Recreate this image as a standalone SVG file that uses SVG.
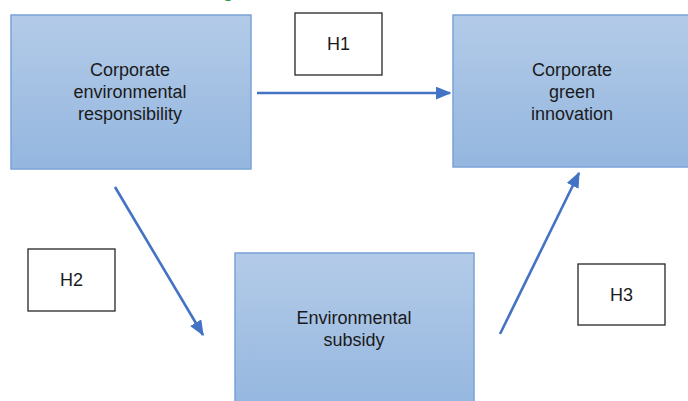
<svg xmlns="http://www.w3.org/2000/svg" width="688" height="401" viewBox="0 0 688 401">
<defs>
<linearGradient id="g1" x1="0" y1="0" x2="0" y2="1">
<stop offset="0" stop-color="#b3cbe8"/>
<stop offset="1" stop-color="#94b6df"/>
</linearGradient>
<marker id="ah" markerWidth="6" markerHeight="5" refX="5.5" refY="2.5" orient="auto" markerUnits="strokeWidth">
<path d="M0,0 L6,2.5 L0,5 Z" fill="#4472c4"/>
</marker>
<style>
.node{fill:url(#g1);stroke:#7aa3d6;stroke-width:1.5}
.hbox{fill:#ffffff;stroke:#262626;stroke-width:1.3}
.t{font-family:"Liberation Sans",Arial,sans-serif;font-size:18px;fill:#1a1a1a;text-anchor:middle}
.conn{stroke:#4472c4;stroke-width:2.6;fill:none;marker-end:url(#ah)}
</style>
</defs>
<rect width="688" height="401" fill="#ffffff"/>
<text x="224" y="-3" font-family="Liberation Serif,serif" font-size="16" font-weight="bold" fill="#2e9a4a">g</text>
<g id="cer">
<rect class="node" x="11" y="15" width="240" height="154"/>
<text class="t" x="130" y="76">Corporate</text>
<text class="t" x="130" y="98">environmental</text>
<text class="t" x="130" y="120">responsibility</text>
</g>
<g id="cgi">
<rect class="node" x="453" y="15" width="245" height="152"/>
<text class="t" x="572" y="76">Corporate</text>
<text class="t" x="572" y="98">green</text>
<text class="t" x="572" y="120">innovation</text>
</g>
<g id="es">
<rect class="node" x="235" y="253" width="239" height="160"/>
<text class="t" x="354" y="324">Environmental</text>
<text class="t" x="354" y="346">subsidy</text>
</g>
<g id="h1">
<rect class="hbox" x="295" y="13" width="87" height="62"/>
<text class="t" x="338.5" y="50">H1</text>
</g>
<g id="h2">
<rect class="hbox" x="28" y="249" width="87" height="62"/>
<text class="t" x="71.5" y="286">H2</text>
</g>
<g id="h3">
<rect class="hbox" x="578" y="264" width="87" height="61"/>
<text class="t" x="621.5" y="301">H3</text>
</g>
<g id="connectors">
<line class="conn" x1="257" y1="93" x2="450" y2="93"/>
<line class="conn" x1="115" y1="187" x2="203" y2="335"/>
<line class="conn" x1="500" y1="334" x2="579" y2="173"/>
</g>
</svg>
